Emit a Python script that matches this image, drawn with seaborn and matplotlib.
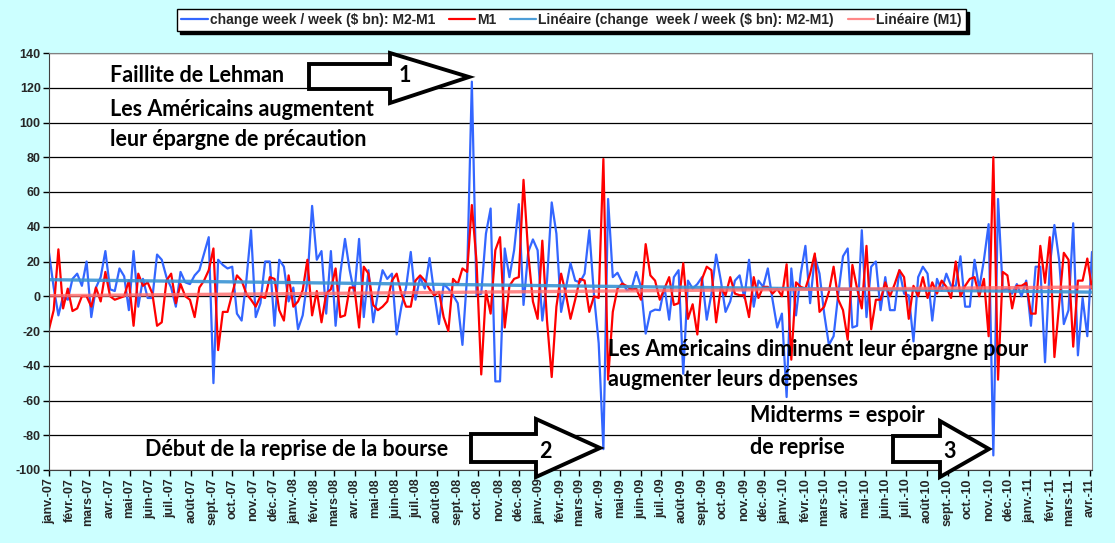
import numpy as np
import pandas as pd
import matplotlib
matplotlib.use("Agg")
import matplotlib.pyplot as plt
from matplotlib.patches import Polygon
import seaborn as sns

# ─────────────────────────────────────────────
# Data (weekly changes, $ bn)
# ─────────────────────────────────────────────

m2_m1 = [
    25, 5, -11, 0, -2, 10, 13, 6, 20, -12, 5, 11, 26, 4, 3, 16, 11.5, -8, 26, -6,
    10, -1, -1, 24, 21, 11, 5, -6, 14, 8, 7, 12, 15, 24.6, 34, -50, 21, 18, 16, 17,
    -10, -14, 9, 38, -12, -4, 20, 20, -17, 21, 17, -3, 5, -19, -11, 9, 52, 21, 26, -10,
    26, -17, 13, 33, 15, 1.5, 33, -12, 15, -15, 1.5, 15, 10, 13, -22, -6, 5, 25.5, -2, 11,
    4.4, 22, 1.5, -16, 7, 4.4, 0.6, -4, -28, 12, 123.5, 0.6, 1.5, 36, 50.5, -49, -49, 27.5, 11, 26.5,
    53, -5, 25.5, 32.7, 26.5, -14, 9, 54, 36, -9, 4.4, 19, 9, 8, 13, 38, 0.6, -27, -88, 56,
    11, 13.5, 8, 3.5, 4.4, 14, 5.4, -21.5, -9, -7.7, -8, 5.4, -13.5, 11, 15, -44.6, 9, 4.4, 7, 11,
    -13.5, 1.5, 24, 9, -9, -3, 9, 12, -1, 21, -6, 9, 5.4, 16, -2, -18, -10, -58, 16, -11,
    13, 29, -4, 23, 13, -10, -28, -23, 1.5, 23, 27.5, -18, -17, 38, -12, 17, 20, -8, 11, -8,
    -8, 15, 1.5, 0.5, -26, 11, 17, 13, -14, 10, 3.5, 13, 6, 6, 23, -6, -6, 21, 4.4, 21,
    41.5, -91.6, 56, 3.5, 4.4, 1.5, 7, 0, 9, -17, 17, 17, -38, 17, 41, 21, -16, -8, 42, -34,
    -1, -23, 25.5,
]

m1 = [
    -19, -8, 27, -7, 4.4, -8.5, -7, 0, 0, -6, 5, -3, 14, 0, -2, -1, 0, 9, -17, 13,
    6, 8, 1.5, -17, -15, 9, 13, -4, 7, 0, -2, -12, 5, 9, 15, 27.5, -31, -9, -9, 1.5,
    12, 9, 1.5, -2, -6, 0, -1, 11, 10, -8, -14, 12, -6, -3, 3.5, 21, -11, 3, -15, 1.5,
    4, 16, -12, -11, 5, 5, -18, 17, 13, -5, -8, -6, -3, 9, 13, 1.5, -6, -6, 9, 12,
    9, 4, 0.5, 2.5, -12, -20, 10, 7, 16, 14, 52.5, 20, -45, 3, -10, 26.5, 34, -18, 6, 10,
    11, 67, 24.6, -3, -13, 32, -14, -46.5, -6, 13, 1.5, -13, -2, 10, 9, -9, 0, -1, 79, -48,
    -9, 4.4, 7.3, 5.8, 3.8, 4.4, -2, 30, 12, 9, -2, 4.4, 11, -5, -4, 19, -13, -4.6, -22, 10,
    17, 15, -15, 5, 0.6, 11, 1.5, 0.6, 0.6, -12, 11, -1, 5.4, 5.4, 1.5, 4.4, 0, 18.4, -36.5, 8,
    5.4, 4.4, 13, 24.6, -9, -6, 2.5, 17, -2, -8, -25, 18, 4.4, -7, 29, -19, -2, -2, 8, 0,
    7, 15, 11, -13, 6, 0, 11, -1, 8, 1.5, 9, 5.4, -1, 20, 0, 6, 10, 11, 0, 10,
    -23, 80, -48, 14, 12, -7, 6, 6, 7.7, -10, -10, 29, 7.7, 34, -35, -5, 25, 21, -29, 9,
    9, 21.7, 4.4,
]

start_date = "2007-01-01"
months_fr = ["janv.", "févr.", "mars", "avr.", "mai", "juin",
             "juil.", "août", "sept.", "oct.", "nov.", "déc."]
y_ticks = list(range(-100, 141, 20))

label_m2 = "change week / week ($ bn): M2-M1"
label_m1 = "M1"
label_tr_m2 = "Linéaire (change  week / week ($ bn): M2-M1)"
label_tr_m1 = "Linéaire (M1)"

# ─────────────────────────────────────────────
# Frame + linear trends (Excel "Linéaire")
# ─────────────────────────────────────────────

dates = pd.date_range(start_date, periods=len(m2_m1), freq="7D")
idx = np.arange(len(m2_m1))
df = pd.DataFrame({"date": dates, "m2_m1": m2_m1, "m1": m1})
df["tr_m2"] = np.polyval(np.polyfit(idx, df["m2_m1"], 1), idx)
df["tr_m1"] = np.polyval(np.polyfit(idx, df["m1"], 1), idx)

sns.set_style("white")
plt.rcParams["font.family"] = ["Liberation Sans", "DejaVu Sans"]

W, H = 1115, 543
fig = plt.figure(figsize=(W / 100, H / 100), dpi=100, facecolor="#CCFFFF")
ax = fig.add_axes([49 / W, 1 - 470 / H, (1092 - 49) / W, (470 - 53) / H])
ax.set_facecolor("white")

sns.lineplot(data=df, x="date", y="m2_m1", ax=ax, color="#3366FF", lw=1.6, label=label_m2)
sns.lineplot(data=df, x="date", y="m1", ax=ax, color="#FF0000", lw=1.6, label=label_m1)
sns.lineplot(data=df, x="date", y="tr_m2", ax=ax, color="#3A94D4", lw=2.4, alpha=0.9, label=label_tr_m2)
sns.lineplot(data=df, x="date", y="tr_m1", ax=ax, color="#FF6A6A", lw=2.4, alpha=0.8, label=label_tr_m1)

# axes
ax.set_xlim(dates[0], dates[-1])
ax.set_ylim(-100, 140)
ax.set_yticks(y_ticks)
ax.set_yticklabels([str(v) for v in y_ticks], fontsize=9, fontweight="bold")
month_ticks = pd.date_range(start_date, dates[-1], freq="MS")
ax.set_xticks(month_ticks)
ax.set_xticklabels([f"{months_fr[d.month - 1]}-{d.strftime('%y')}" for d in month_ticks],
                   rotation=90, fontsize=9, fontweight="bold")
ax.set_xlabel("")
ax.set_ylabel("")
ax.grid(axis="y", color="black", lw=0.9)
ax.grid(axis="x", visible=False)
ax.tick_params(axis="both", direction="out", length=4, width=1, color="black", pad=2,
               bottom=True, left=True)
for side in ["top", "right"]:
    ax.spines[side].set_color("#808080")
for side in ["left", "bottom"]:
    ax.spines[side].set_color("#404040")

# legend across the top, stretched to the reference box
handles, labels = ax.get_legend_handles_labels()
ax.get_legend().remove()
leg = fig.legend(handles, labels, loc="center", mode="expand",
                 bbox_to_anchor=(177 / W, 1 - 32 / H, 789 / W, 24 / H),
                 ncol=4, frameon=True, fancybox=False, edgecolor="black", facecolor="white",
                 framealpha=1, shadow={"color": "black", "alpha": 1},
                 prop={"size": 10, "weight": "bold"}, handlelength=1.9,
                 columnspacing=1.5, handletextpad=0.15, borderpad=0.3, borderaxespad=0)
leg.get_frame().set_linewidth(1.0)
for line in leg.get_lines():
    line.set_linewidth(1.6)

# ─────────────────────────────────────────────
# Annotations (pixel coords of the reference)
# ─────────────────────────────────────────────

def px(x, y):
    return x / W, 1 - y / H


def block_arrow(x0, x1, xt, ytop, ybot, yhtop, yhbot, ytip):
    pts = [(x0, ytop), (x1, ytop), (x1, yhtop), (xt, ytip), (x1, yhbot), (x1, ybot), (x0, ybot)]
    poly = Polygon([px(*p) for p in pts], closed=True, transform=fig.transFigure,
                   facecolor="white", edgecolor="black", lw=2.8, joinstyle="miter", zorder=5)
    fig.add_artist(poly)


note_font = dict(family=["Lato", "DejaVu Sans"], fontweight="bold", fontsize=15.5,
                 color="black", va="center", ha="left", zorder=6)

fig.text(*px(110, 76), "Faillite de Lehman", **note_font)
fig.text(*px(110, 110), "Les Américains augmentent", **note_font)
fig.text(*px(110, 140), "leur épargne de précaution", **note_font)
fig.text(*px(145, 450), "Début de la reprise de la bourse", **note_font)
fig.text(*px(608, 350), "Les Américains diminuent leur épargne pour", **note_font)
fig.text(*px(608, 379), "augmenter leurs dépenses", **note_font)
fig.text(*px(750, 416), "Midterms = espoir", **note_font)
fig.text(*px(750, 447), "de reprise", **note_font)

block_arrow(309, 390, 469, 64, 89, 53, 103, 77)
block_arrow(471, 536, 600, 434, 462, 419, 477, 448)
block_arrow(893, 940, 989, 436, 462, 421, 477, 449)

num_font = dict(note_font, ha="center")
fig.text(*px(405, 76), "1", **num_font)
fig.text(*px(545, 451), "2", **num_font)
fig.text(*px(950, 451), "3", **num_font)

fig.savefig("out.png", dpi=100, facecolor=fig.get_facecolor())
